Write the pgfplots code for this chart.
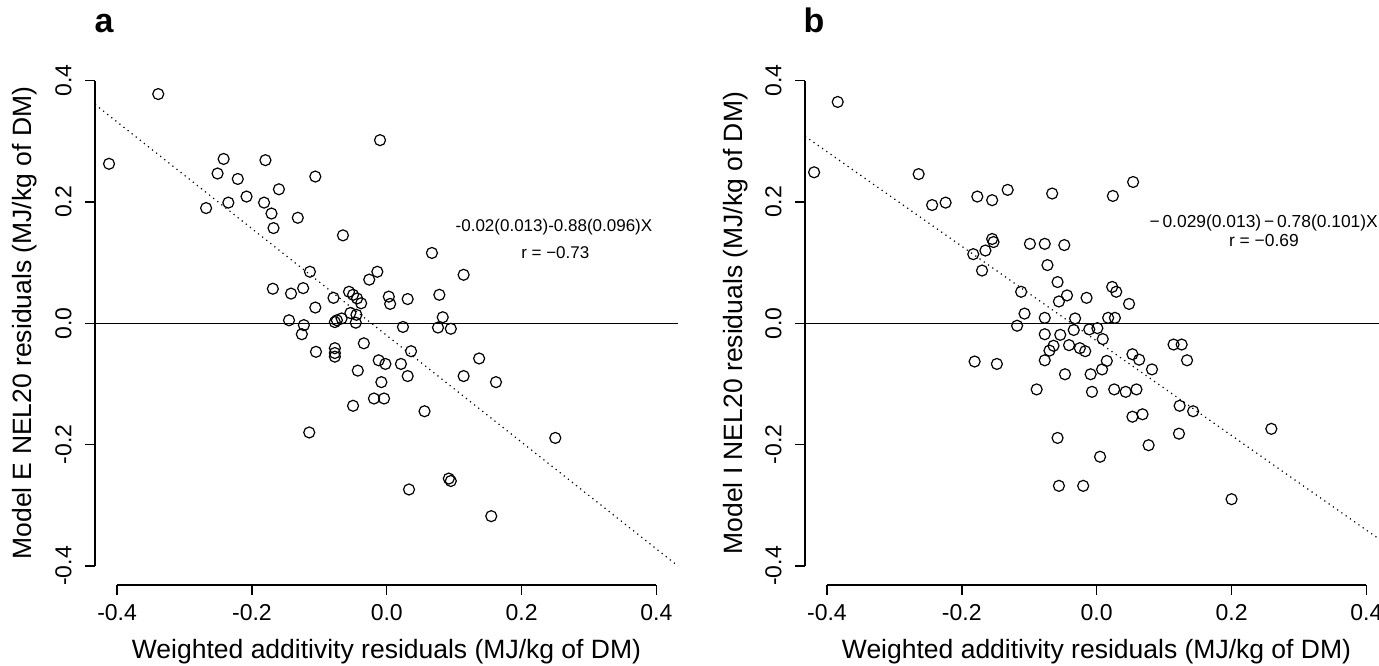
\documentclass[border=0pt]{standalone}
\usepackage{fontspec}
\setmainfont{Liberation Sans}
\usepackage{graphicx}
\usepackage{pgfplots}
\usepackage{pgfplotstable}
\pgfplotsset{compat=1.18}

\pgfplotstableread{
x y
-0.339 0.378
-0.412 0.263
-0.242 0.271
-0.251 0.247
-0.221 0.238
-0.180 0.269
-0.106 0.242
-0.160 0.221
-0.208 0.209
-0.268 0.190
-0.235 0.199
-0.182 0.199
-0.171 0.181
-0.168 0.157
-0.132 0.174
-0.065 0.145
-0.114 0.085
-0.169 0.057
-0.142 0.049
-0.124 0.058
-0.079 0.042
-0.106 0.026
-0.145 0.005
-0.123 -0.003
-0.077 0.002
-0.074 0.005
-0.067 0.008
-0.126 -0.018
-0.105 -0.047
-0.077 -0.041
-0.077 -0.049
-0.077 -0.055
-0.115 -0.180
-0.010 0.302
0.067 0.116
0.114 0.080
-0.014 0.085
-0.026 0.072
-0.056 0.052
-0.050 0.047
-0.044 0.041
-0.038 0.033
0.003 0.044
0.005 0.032
0.031 0.040
0.078 0.047
-0.054 0.017
-0.045 0.014
-0.046 0.001
0.024 -0.006
0.083 0.010
0.076 -0.007
0.095 -0.009
-0.034 -0.033
0.036 -0.046
-0.012 -0.061
-0.002 -0.067
0.021 -0.067
0.137 -0.058
-0.043 -0.078
0.031 -0.087
0.114 -0.087
0.162 -0.097
-0.008 -0.097
-0.019 -0.124
-0.004 -0.124
-0.050 -0.136
0.056 -0.145
0.250 -0.189
0.092 -0.256
0.095 -0.260
0.033 -0.274
0.155 -0.318
}\dataA

\pgfplotstableread{
x y
-0.384 0.365
-0.419 0.249
-0.264 0.246
-0.244 0.195
-0.224 0.199
-0.177 0.209
-0.155 0.203
-0.132 0.220
-0.155 0.139
-0.153 0.134
-0.165 0.120
-0.183 0.114
-0.170 0.087
-0.099 0.131
-0.112 0.052
-0.107 0.016
-0.118 -0.004
-0.181 -0.063
-0.148 -0.067
-0.089 -0.109
0.054 0.233
-0.066 0.214
0.024 0.210
-0.077 0.131
-0.048 0.129
-0.073 0.096
-0.058 0.068
-0.044 0.046
-0.056 0.036
-0.015 0.042
0.023 0.060
0.029 0.052
0.048 0.032
-0.077 0.009
-0.032 0.008
0.017 0.009
0.027 0.009
-0.034 -0.011
-0.011 -0.010
0.001 -0.008
-0.077 -0.018
-0.054 -0.019
0.009 -0.026
-0.041 -0.036
-0.064 -0.037
-0.070 -0.045
-0.025 -0.041
-0.017 -0.046
0.114 -0.035
0.126 -0.035
0.053 -0.051
0.063 -0.060
-0.077 -0.061
0.015 -0.062
0.134 -0.061
0.082 -0.076
0.008 -0.076
-0.047 -0.084
-0.009 -0.084
-0.007 -0.113
0.026 -0.109
0.043 -0.113
0.059 -0.109
0.123 -0.136
0.143 -0.145
0.053 -0.154
0.068 -0.150
0.259 -0.174
-0.058 -0.189
0.122 -0.182
0.077 -0.201
0.005 -0.220
-0.056 -0.268
-0.020 -0.268
0.200 -0.290
}\dataB

\pgfplotsset{rstyle/.style={
  scale only axis, width=291.5pt, height=261.85pt, anchor=south west,
  ymin=-0.4315, ymax=0.432,
  axis line style={draw=none},
  tick pos=left, tick align=outside, major tick length=5pt,
  every tick/.style={black, line width=0.7pt},
  xtick={-0.4,-0.2,0,0.2,0.4}, ytick={-0.4,-0.2,0,0.2,0.4},
  xticklabels={-0.4,-0.2,0.0,0.2,0.4},
  yticklabels={\rotatebox{90}{-0.4},\rotatebox{90}{-0.2},\rotatebox{90}{0.0},\rotatebox{90}{0.2},\rotatebox{90}{0.4}},
  ticklabel style={font=\fontsize{11.5}{13}\selectfont},
  yticklabel style={anchor=east, inner sep=0pt},
  xticklabel style={anchor=base, inner sep=0pt},
  xticklabel shift=12.85pt, yticklabel shift=6.5pt,
  label style={font=\fontsize{13.25}{15}\selectfont},
  xlabel style={at={([yshift=-36.5pt]axis description cs:0.5,0)}, anchor=base, inner sep=0pt},
  ylabel style={at={([xshift=-31.5pt]axis description cs:0,0.5)}, anchor=base, inner sep=0pt},
  clip=false,
  mark options={solid},
}}

\begin{document}
\begin{tikzpicture}
\begin{axis}[rstyle, at={(47.5pt,40pt)}, xmin=-0.4328, xmax=0.432,
  xlabel={Weighted additivity residuals (MJ/kg of DM)},
  ylabel={Model E NEL20 residuals (MJ/kg of DM)}]
\draw[line width=0.7pt] (axis cs:-0.4,-0.4315) -- (axis cs:0.4,-0.4315);
\draw[line width=0.7pt] (axis cs:-0.4328,-0.4) -- (axis cs:-0.4328,0.4);
\addplot[black, line width=0.65pt] coordinates {(-0.4328,0) (0.432,0)};
\addplot[black, dotted, line width=0.6pt] coordinates {(-0.4328,0.3609) (0.432,-0.4002)};
\addplot[only marks, mark=o, mark size=2.75pt, black, line width=0.6pt] table[x=x,y=y] {\dataA};
\node[font=\fontsize{8.5}{10}\selectfont, anchor=center] at (axis cs:0.248,0.159) {-0.02(0.013)-0.88(0.096)X};
\node[font=\fontsize{8.5}{10}\selectfont, anchor=center] at (axis cs:0.250,0.116) {r = −0.73};
\end{axis}

\begin{axis}[rstyle, at={(402.5pt,40pt)}, xmin=-0.4325, xmax=0.432,
  xlabel={Weighted additivity residuals (MJ/kg of DM)},
  ylabel={Model I NEL20 residuals (MJ/kg of DM)}]
\draw[line width=0.7pt] (axis cs:-0.4,-0.4315) -- (axis cs:0.4,-0.4315);
\draw[line width=0.7pt] (axis cs:-0.4325,-0.4) -- (axis cs:-0.4325,0.4);
\addplot[black, line width=0.65pt] coordinates {(-0.4325,0) (0.432,0)};
\addplot[black, dotted, line width=0.6pt] coordinates {(-0.4325,0.3084) (0.432,-0.366)};
\addplot[only marks, mark=o, mark size=2.75pt, black, line width=0.6pt] table[x=x,y=y] {\dataB};
\node[font=\fontsize{8.7}{10}\selectfont, anchor=center] at (axis cs:0.2476,0.165) {−\,0.029(0.013)\,−\,0.78(0.101)X};
\node[font=\fontsize{8.7}{10}\selectfont, anchor=center] at (axis cs:0.2480,0.137) {r = −0.69};
\end{axis}

\node[font=\fontsize{17}{19}\selectfont\bfseries, anchor=base] at (52pt,316pt) {a};
\node[font=\fontsize{17}{19}\selectfont\bfseries, anchor=base] at (407pt,316pt) {b};
\pgfresetboundingbox
\useasboundingbox (0,0) rectangle (689.5pt,332.5pt);
\end{tikzpicture}
\end{document}
